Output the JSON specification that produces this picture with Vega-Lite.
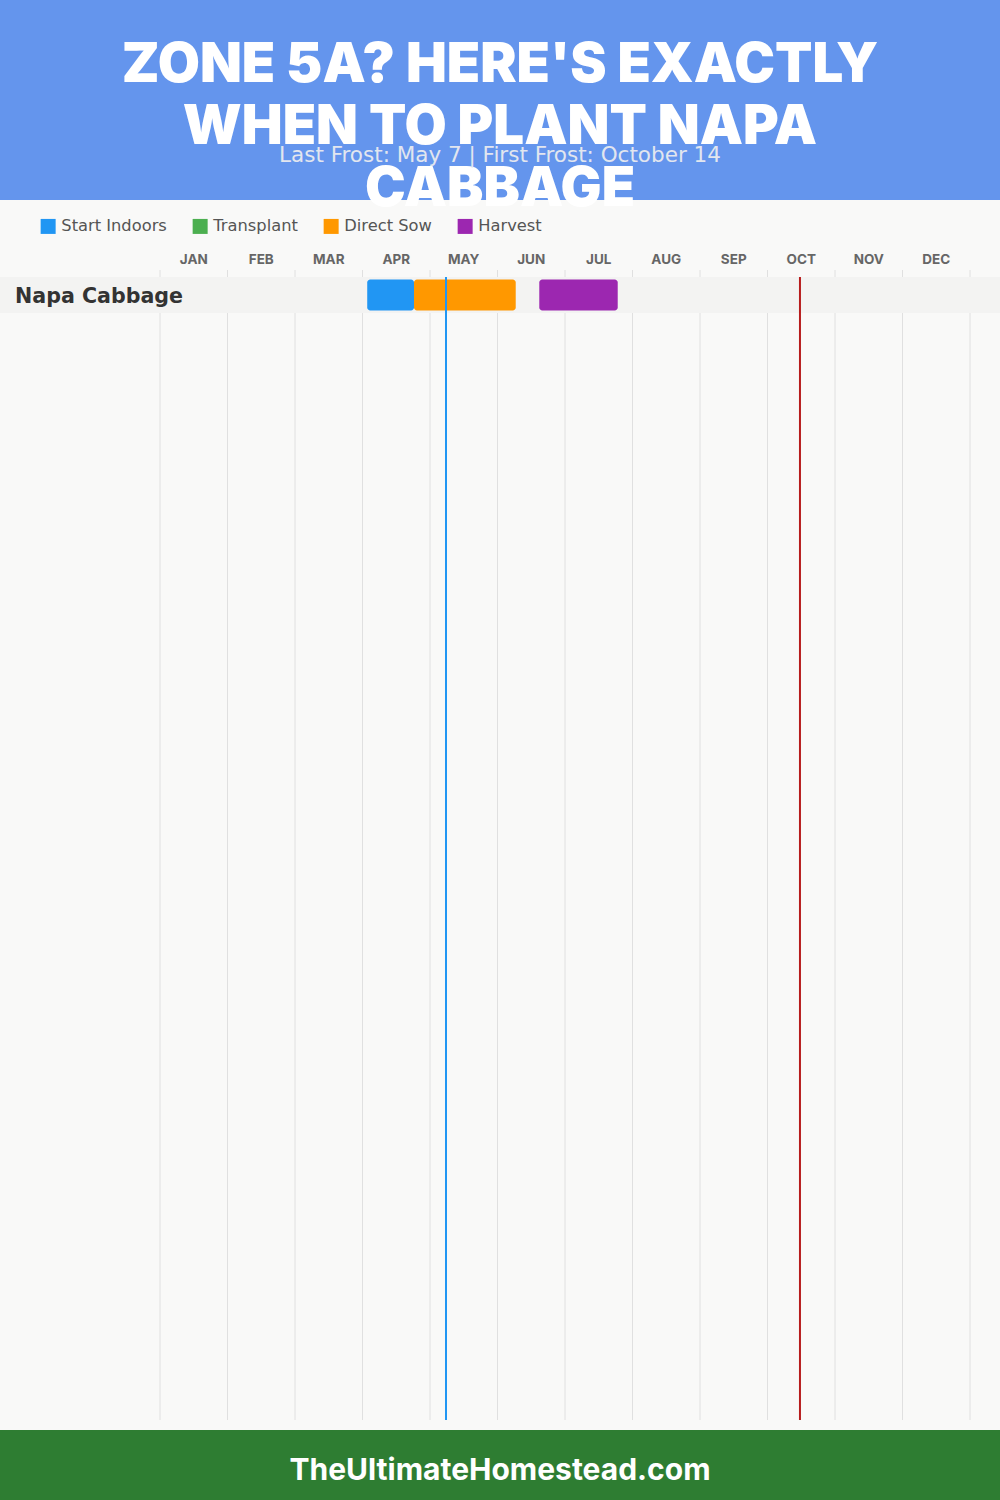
{
  "$schema": "https://vega.github.io/schema/vega-lite/v6.json",
  "width": 1000,
  "height": 1500,
  "padding": 0,
  "autosize": {"type": "fit", "contains": "padding"},
  "background": "#f9f9f8",
  "config": {"view": {"stroke": null}, "font": "Inter"},
  "datasets": {
    "months": [
      {"label": "JAN", "mid": 0.5}, {"label": "FEB", "mid": 1.5}, {"label": "MAR", "mid": 2.5},
      {"label": "APR", "mid": 3.5}, {"label": "MAY", "mid": 4.5}, {"label": "JUN", "mid": 5.5},
      {"label": "JUL", "mid": 6.5}, {"label": "AUG", "mid": 7.5}, {"label": "SEP", "mid": 8.5},
      {"label": "OCT", "mid": 9.5}, {"label": "NOV", "mid": 10.5}, {"label": "DEC", "mid": 11.5}
    ],
    "bounds": [
      {"b": 0}, {"b": 1}, {"b": 2}, {"b": 3}, {"b": 4}, {"b": 5}, {"b": 6},
      {"b": 7}, {"b": 8}, {"b": 9}, {"b": 10}, {"b": 11}, {"b": 12}
    ],
    "tasks": [
      {"crop": "Napa Cabbage", "stage": "Start Indoors", "start": 3.07, "end": 3.763},
      {"crop": "Napa Cabbage", "stage": "Direct Sow", "start": 3.763, "end": 5.27},
      {"crop": "Napa Cabbage", "stage": "Harvest", "start": 5.619, "end": 6.781}
    ],
    "crops": [{"crop": "Napa Cabbage"}],
    "frost": [
      {"event": "Last Frost", "date": "May 7", "month": 4.237},
      {"event": "First Frost", "date": "October 14", "month": 9.481}
    ]
  },
  "resolve": {"scale": {"y": "independent"}},
  "layer": [
    {
      "layer": [
        {
          "data": {"values": [{}]},
          "mark": {"type": "rect", "color": "#6495ED"},
          "encoding": {
            "x": {"datum": -2.37037, "type": "quantitative", "scale": {"domain": [-2.37037, 12.44444], "nice": false, "zero": false}, "axis": null},
            "x2": {"datum": 12.44444},
            "y": {"datum": 0, "type": "quantitative", "scale": {"domain": [0, 1500], "reverse": true, "nice": false, "zero": false}, "axis": null},
            "y2": {"datum": 200}
          }
        },
        {
          "data": {"values": [{}]},
          "mark": {"type": "rect", "color": "#2e7d32"},
          "encoding": {
            "x": {"datum": -2.37037, "type": "quantitative"},
            "x2": {"datum": 12.44444},
            "y": {"datum": 1430, "type": "quantitative"},
            "y2": {"datum": 1500}
          }
        },
        {
          "data": {"name": "bounds"},
          "mark": {"type": "rule", "color": "#e0e0e0", "strokeWidth": 1},
          "encoding": {
            "x": {"field": "b", "type": "quantitative"},
            "y": {"datum": 270, "type": "quantitative"},
            "y2": {"datum": 1420}
          }
        },
        {
          "data": {"values": [{}]},
          "mark": {"type": "text", "text": ["ZONE 5A? HERE'S EXACTLY", "WHEN TO PLANT NAPA", "CABBAGE"], "lineHeight": 62, "font": "Inter", "fontWeight": 900, "fontSize": 54.5, "color": "#ffffff", "align": "center", "baseline": "alphabetic"},
          "encoding": {
            "x": {"datum": 5.037, "type": "quantitative"},
            "y": {"datum": 82, "type": "quantitative"}
          }
        },
        {
          "data": {"values": [{}]},
          "mark": {"type": "text", "text": "Last Frost: May 7 | First Frost: October 14", "font": "DejaVu Sans", "fontWeight": 400, "fontSize": 21.5, "color": "#e2e6ef", "align": "center", "baseline": "alphabetic"},
          "encoding": {
            "x": {"datum": 5.037, "type": "quantitative"},
            "y": {"datum": 162, "type": "quantitative"}
          }
        },
        {
          "data": {"name": "months"},
          "mark": {"type": "text", "font": "Inter", "fontWeight": 700, "fontSize": 13.5, "color": "#666666", "align": "center", "baseline": "middle"},
          "encoding": {
            "x": {"field": "mid", "type": "quantitative"},
            "y": {"datum": 259.5, "type": "quantitative"},
            "text": {"field": "label"}
          }
        },
        {
          "data": {"values": [{}]},
          "mark": {"type": "text", "text": "TheUltimateHomestead.com", "font": "Inter", "fontWeight": 700, "fontSize": 30, "color": "#ffffff", "align": "center", "baseline": "middle"},
          "encoding": {
            "x": {"datum": 5.037, "type": "quantitative"},
            "y": {"datum": 1471, "type": "quantitative"}
          }
        }
      ]
    },
    {
      "layer": [
        {
          "data": {"name": "crops"},
          "mark": {"type": "rect", "color": "#f3f3f2"},
          "encoding": {
            "x": {"datum": -2.37037, "type": "quantitative"},
            "x2": {"datum": 12.44444},
            "y": {"field": "crop", "type": "nominal", "scale": {"type": "band", "domain": ["Napa Cabbage"], "range": [277, 313], "paddingInner": 0, "paddingOuter": 0}, "axis": null}
          }
        },
        {
          "data": {"name": "tasks"},
          "mark": {"type": "bar", "cornerRadius": 3, "height": {"band": 0.86}},
          "encoding": {
            "x": {"field": "start", "type": "quantitative"},
            "x2": {"field": "end"},
            "y": {"field": "crop", "type": "nominal"},
            "color": {
              "field": "stage", "type": "nominal",
              "scale": {"domain": ["Start Indoors", "Transplant", "Direct Sow", "Harvest"], "range": ["#2196F3", "#4CAF50", "#FF9800", "#9C27B0"]},
              "legend": {"title": null, "orient": "none", "legendX": 40, "legendY": 218, "direction": "horizontal", "symbolType": "square", "symbolSize": 225, "symbolStrokeWidth": 0, "symbolOpacity": 1, "labelFont": "DejaVu Sans", "labelFontSize": 16.3, "labelColor": "#555555", "labelOffset": 5, "columnPadding": 25, "padding": 0}
            }
          }
        },
        {
          "data": {"name": "frost"},
          "transform": [{"filter": "datum.event === 'Last Frost'"}],
          "mark": {"type": "rule", "color": "#2196F3", "strokeWidth": 2},
          "encoding": {
            "x": {"field": "month", "type": "quantitative"},
            "y": {"datum": "Napa Cabbage", "type": "nominal", "bandPosition": 0},
            "y2": {"value": 1420}
          }
        },
        {
          "data": {"name": "frost"},
          "transform": [{"filter": "datum.event === 'First Frost'"}],
          "mark": {"type": "rule", "color": "#b71c1c", "strokeWidth": 2},
          "encoding": {
            "x": {"field": "month", "type": "quantitative"},
            "y": {"datum": "Napa Cabbage", "type": "nominal", "bandPosition": 0},
            "y2": {"value": 1420}
          }
        },
        {
          "data": {"name": "crops"},
          "mark": {"type": "text", "font": "DejaVu Sans", "fontWeight": 700, "fontSize": 20.6, "color": "#333333", "align": "left", "baseline": "middle", "dy": 2},
          "encoding": {
            "x": {"datum": -2.148, "type": "quantitative"},
            "y": {"field": "crop", "type": "nominal"},
            "text": {"field": "crop"}
          }
        }
      ]
    }
  ]
}
